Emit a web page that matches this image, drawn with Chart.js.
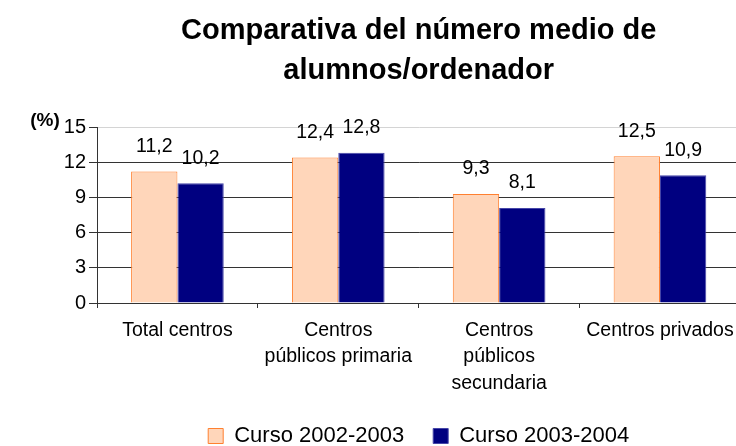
<!DOCTYPE html>
<html>
<head>
<meta charset="utf-8">
<script src="https://cdn.jsdelivr.net/npm/chart.js@4/dist/chart.umd.min.js"></script>
<style>
  html, body { margin: 0; padding: 0; background: #fff; overflow: hidden; }
  canvas { display: block; }
</style>
</head>
<body>
<canvas id="chart" width="743" height="446"></canvas>
<script>
// données
const categories = ['Total centros', ['Centros', 'públicos primaria'], ['Centros', 'públicos', 'secundaria'], 'Centros privados'];
const curso2002 = [11.2, 12.4, 9.3, 12.5];
const curso2003 = [10.2, 12.8, 8.1, 10.9];
const seriesNames = ['Curso 2002-2003', 'Curso 2003-2004'];
const yTicks = [0, 3, 6, 9, 12, 15];
const titleLines = ['Comparativa del número medio de', 'alumnos/ordenador'];
const unitLabel = '(%)';

const FONT = "'Liberation Sans', Arial, sans-serif";
const GRID = '#333333';

// étiquettes de valeurs + "(%)"
const labelsPlugin = {
  id: 'labels',
  afterDatasetsDraw(chart) {
    const ctx = chart.ctx;
    ctx.save();
    ctx.fillStyle = '#000';
    ctx.textAlign = 'center';
    ctx.textBaseline = 'middle';
    ctx.font = '19.5px ' + FONT;
    chart.data.datasets.forEach((ds, i) => {
      const meta = chart.getDatasetMeta(i);
      meta.data.forEach((bar, j) => {
        ctx.fillText(String(ds.data[j]).replace('.', ','), bar.x, bar.y - 25);
      });
    });
    ctx.font = 'bold 19px ' + FONT;
    ctx.fillText(unitLabel, 45, 121);
    ctx.restore();
  }
};

new Chart(document.getElementById('chart').getContext('2d'), {
  type: 'bar',
  data: {
    labels: categories,
    datasets: [
      {
        label: seriesNames[0],
        data: curso2002,
        backgroundColor: '#FFD6BA',
        borderColor: '#FF8030',
        borderWidth: 1
      },
      {
        label: seriesNames[1],
        data: curso2003,
        backgroundColor: '#000080',
        borderColor: '#4646A8',
        borderWidth: 1
      }
    ]
  },
  options: {
    responsive: false,
    devicePixelRatio: 1,
    animation: false,
    layout: { padding: { left: 0, right: 0, top: 0, bottom: 0 } },
    datasets: { bar: { categoryPercentage: 0.576, barPercentage: 1 } },
    plugins: {
      title: {
        display: true,
        fullSize: false,
        text: titleLines,
        color: '#000',
        font: { family: FONT, size: 29, weight: 'bold', lineHeight: 1.38 },
        padding: { top: 11, bottom: 36 }
      },
      legend: {
        position: 'bottom',
        fullSize: false,
        maxHeight: 50,
        labels: {
          color: '#000',
          font: { family: FONT, size: 22 },
          boxWidth: 15,
          boxHeight: 15,
          padding: 29
        }
      },
      tooltip: { enabled: false }
    },
    scales: {
      x: {
        afterFit: (s) => { s.height = 93; },
        grid: { drawOnChartArea: false, color: GRID, tickLength: 5 },
        border: { color: GRID },
        ticks: {
          color: '#000',
          maxRotation: 0,
          autoSkip: false,
          padding: 9,
          font: { family: FONT, size: 19.5, lineHeight: 1.36 }
        }
      },
      y: {
        min: 0,
        max: 15,
        afterFit: (s) => { s.width = 97; },
        afterBuildTicks: (s) => { s.ticks = yTicks.map(v => ({ value: v })); },
        grid: {
          color: (c) => (c.tick && c.tick.value === 15 ? '#d4d4d4' : GRID),
          tickColor: GRID,
          tickLength: 8
        },
        border: { color: GRID },
        ticks: {
          color: '#000',
          padding: 3,
          font: { family: FONT, size: 20 }
        }
      }
    }
  },
  plugins: [labelsPlugin]
});
</script>
</body>
</html>
